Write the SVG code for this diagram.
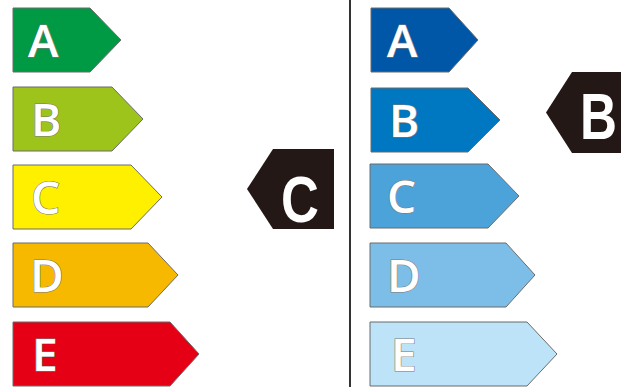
<svg xmlns="http://www.w3.org/2000/svg" width="621" height="387" viewBox="0 0 621 387">
<style>
.ar{stroke:#6b6b6b;stroke-width:1}
.lt{font-family:"Open Sans","Liberation Sans",sans-serif;font-weight:600;font-size:46px;fill:#fff;stroke:#7a7a7a;stroke-width:1.2;paint-order:stroke}
.bd{fill:#231815}
.bt{font-family:"Liberation Sans",Arial,sans-serif;font-weight:bold;font-size:64px;fill:#fff}
</style>
<rect width="621" height="387" fill="#fff"/>
<g id="connectors">
<line x1="350" y1="0" x2="350" y2="387" stroke="#333" stroke-width="2"/>
</g>
<g id="left-A"><polygon class="ar" fill="#009a44" points="13,8 90,8 121,40 90,72 13,72"/><text class="lt" x="28" y="57">A</text></g>
<g id="left-B"><polygon class="ar" fill="#9dc41a" points="13,87 112,87 143,119 112,151 13,151"/><text class="lt" x="31" y="136">B</text></g>
<g id="left-C"><polygon class="ar" fill="#fff000" points="13,165 131,165 162,197 131,229 13,229"/><text class="lt" x="31" y="214">C</text></g>
<g id="left-D"><polygon class="ar" fill="#f7b900" points="13,243 148,243 178,275 148,307 13,307"/><text class="lt" x="30" y="292">D</text></g>
<g id="left-E"><polygon class="ar" fill="#e50015" points="13,322 170,322 199,354 170,386 13,386"/><text class="lt" x="32" y="371">E</text></g>
<g id="right-A"><polygon class="ar" fill="#0057a8" points="371,8 449,8 478,40 449,72 371,72"/><text class="lt" x="387" y="57">A</text></g>
<g id="right-B"><polygon class="ar" fill="#0077c1" points="371,88 468,88 500,120 468,152 371,152"/><text class="lt" x="389" y="137">B</text></g>
<g id="right-C"><polygon class="ar" fill="#4ca3da" points="370,164 488,164 519,196 488,228 370,228"/><text class="lt" x="387" y="213">C</text></g>
<g id="right-D"><polygon class="ar" fill="#7dbee9" points="370,243 506,243 535,275 506,307 370,307"/><text class="lt" x="387" y="292">D</text></g>
<g id="right-E"><polygon class="ar" fill="#bce3f7" points="370,322 527,322 557,354 527,386 370,386"/><text class="lt" x="391" y="371">E</text></g>
<g id="badge-C"><polygon class="bd" points="273,149 334,149 334,229 273,229 247,189"/><text class="bt" transform="translate(281,222) scale(0.82,1)" font-size="68">C</text></g>
<g id="badge-B"><polygon class="bd" points="572,72 621,72 621,153 572,153 546,112.5"/><text class="bt" transform="translate(580,139) scale(0.8,1)">B</text></g>
</svg>
